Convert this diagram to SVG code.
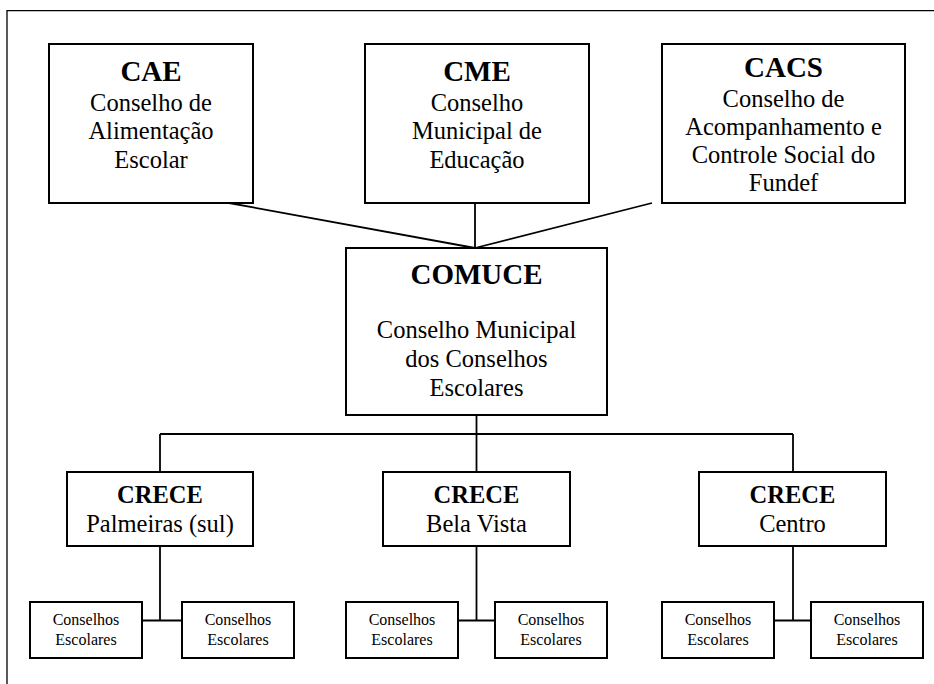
<svg xmlns="http://www.w3.org/2000/svg" width="934" height="684" viewBox="0 0 934 684">
<style>
  .box { fill: #ffffff; stroke: #000000; stroke-width: 2; }
  .ln { fill: none; stroke: #000000; stroke-width: 1.8; }
  .frame { fill: none; stroke: #000000; stroke-width: 1.3; }
  text { font-family: "Liberation Serif", "Times New Roman", serif; fill: #000000; text-anchor: middle; }
  .h1 { font-size: 29px; font-weight: bold; }
  .h2 { font-size: 24.5px; font-weight: bold; }
  .t { font-size: 24.5px; }
  .s { font-size: 16px; }
</style>
<rect x="0" y="0" width="934" height="684" fill="#ffffff"/>
<path class="frame" d="M7,684 L7,10.7 L934,10.7"/>
<g id="connectors">
  <line class="ln" x1="229" y1="203" x2="475" y2="248"/>
  <line class="ln" x1="475" y1="203" x2="475" y2="257"/>
  <line class="ln" x1="652" y1="203" x2="475" y2="248"/>
  <line class="ln" x1="476.5" y1="415" x2="476.5" y2="472"/>
  <line class="ln" x1="160" y1="434" x2="793" y2="434"/>
  <line class="ln" x1="160" y1="434" x2="160" y2="472"/>
  <line class="ln" x1="793" y1="434" x2="793" y2="472"/>
  <line class="ln" x1="160" y1="546" x2="160" y2="620.5"/>
  <line class="ln" x1="476.5" y1="546" x2="476.5" y2="620.5"/>
  <line class="ln" x1="793" y1="546" x2="793" y2="620.5"/>
  <line class="ln" x1="142" y1="620.5" x2="182" y2="620.5"/>
  <line class="ln" x1="458" y1="620.5" x2="495" y2="620.5"/>
  <line class="ln" x1="774" y1="620.5" x2="811" y2="620.5"/>
</g>
<g id="cae">
  <rect class="box" x="49" y="44" width="204" height="159"/>
  <text class="h1" x="151" y="80.7">CAE</text>
  <text class="t" x="151" y="110.5">Conselho de</text>
  <text class="t" x="151" y="139">Alimentação</text>
  <text class="t" x="151" y="167.7">Escolar</text>
</g>
<g id="cme">
  <rect class="box" x="365" y="44" width="224" height="159"/>
  <text class="h1" x="477" y="80.7">CME</text>
  <text class="t" x="477" y="110.5">Conselho</text>
  <text class="t" x="477" y="139">Municipal de</text>
  <text class="t" x="477" y="167.7">Educação</text>
</g>
<g id="cacs">
  <rect class="box" x="662" y="44" width="243" height="159"/>
  <text class="h1" x="783.5" y="77.3">CACS</text>
  <text class="t" x="783.5" y="106.5">Conselho de</text>
  <text class="t" x="783.5" y="134.7">Acompanhamento e</text>
  <text class="t" x="783.5" y="163.2">Controle Social do</text>
  <text class="t" x="783.5" y="190.8">Fundef</text>
</g>
<g id="comuce">
  <rect class="box" x="346" y="248" width="261" height="167"/>
  <text class="h1" x="476.5" y="284">COMUCE</text>
  <text class="t" x="476.5" y="338">Conselho Municipal</text>
  <text class="t" x="476.5" y="367">dos Conselhos</text>
  <text class="t" x="476.5" y="396">Escolares</text>
</g>
<g id="crece-palmeiras">
  <rect class="box" x="67" y="472" width="186" height="74"/>
  <text class="h2" x="160" y="502.5">CRECE</text>
  <text class="t" x="160" y="531.5">Palmeiras (sul)</text>
</g>
<g id="crece-belavista">
  <rect class="box" x="383" y="472" width="187" height="74"/>
  <text class="h2" x="476.5" y="502.5">CRECE</text>
  <text class="t" x="476.5" y="531.5">Bela Vista</text>
</g>
<g id="crece-centro">
  <rect class="box" x="699" y="472" width="187" height="74"/>
  <text class="h2" x="792.5" y="502.5">CRECE</text>
  <text class="t" x="792.5" y="531.5">Centro</text>
</g>
<g id="ce-1">
  <rect class="box" x="30" y="602" width="112" height="56"/>
  <text class="s" x="86" y="625">Conselhos</text>
  <text class="s" x="86" y="645">Escolares</text>
</g>
<g id="ce-2">
  <rect class="box" x="182" y="602" width="112" height="56"/>
  <text class="s" x="238" y="625">Conselhos</text>
  <text class="s" x="238" y="645">Escolares</text>
</g>
<g id="ce-3">
  <rect class="box" x="346" y="602" width="112" height="56"/>
  <text class="s" x="402" y="625">Conselhos</text>
  <text class="s" x="402" y="645">Escolares</text>
</g>
<g id="ce-4">
  <rect class="box" x="495" y="602" width="112" height="56"/>
  <text class="s" x="551" y="625">Conselhos</text>
  <text class="s" x="551" y="645">Escolares</text>
</g>
<g id="ce-5">
  <rect class="box" x="662" y="602" width="112" height="56"/>
  <text class="s" x="718" y="625">Conselhos</text>
  <text class="s" x="718" y="645">Escolares</text>
</g>
<g id="ce-6">
  <rect class="box" x="811" y="602" width="112" height="56"/>
  <text class="s" x="867" y="625">Conselhos</text>
  <text class="s" x="867" y="645">Escolares</text>
</g>
</svg>
